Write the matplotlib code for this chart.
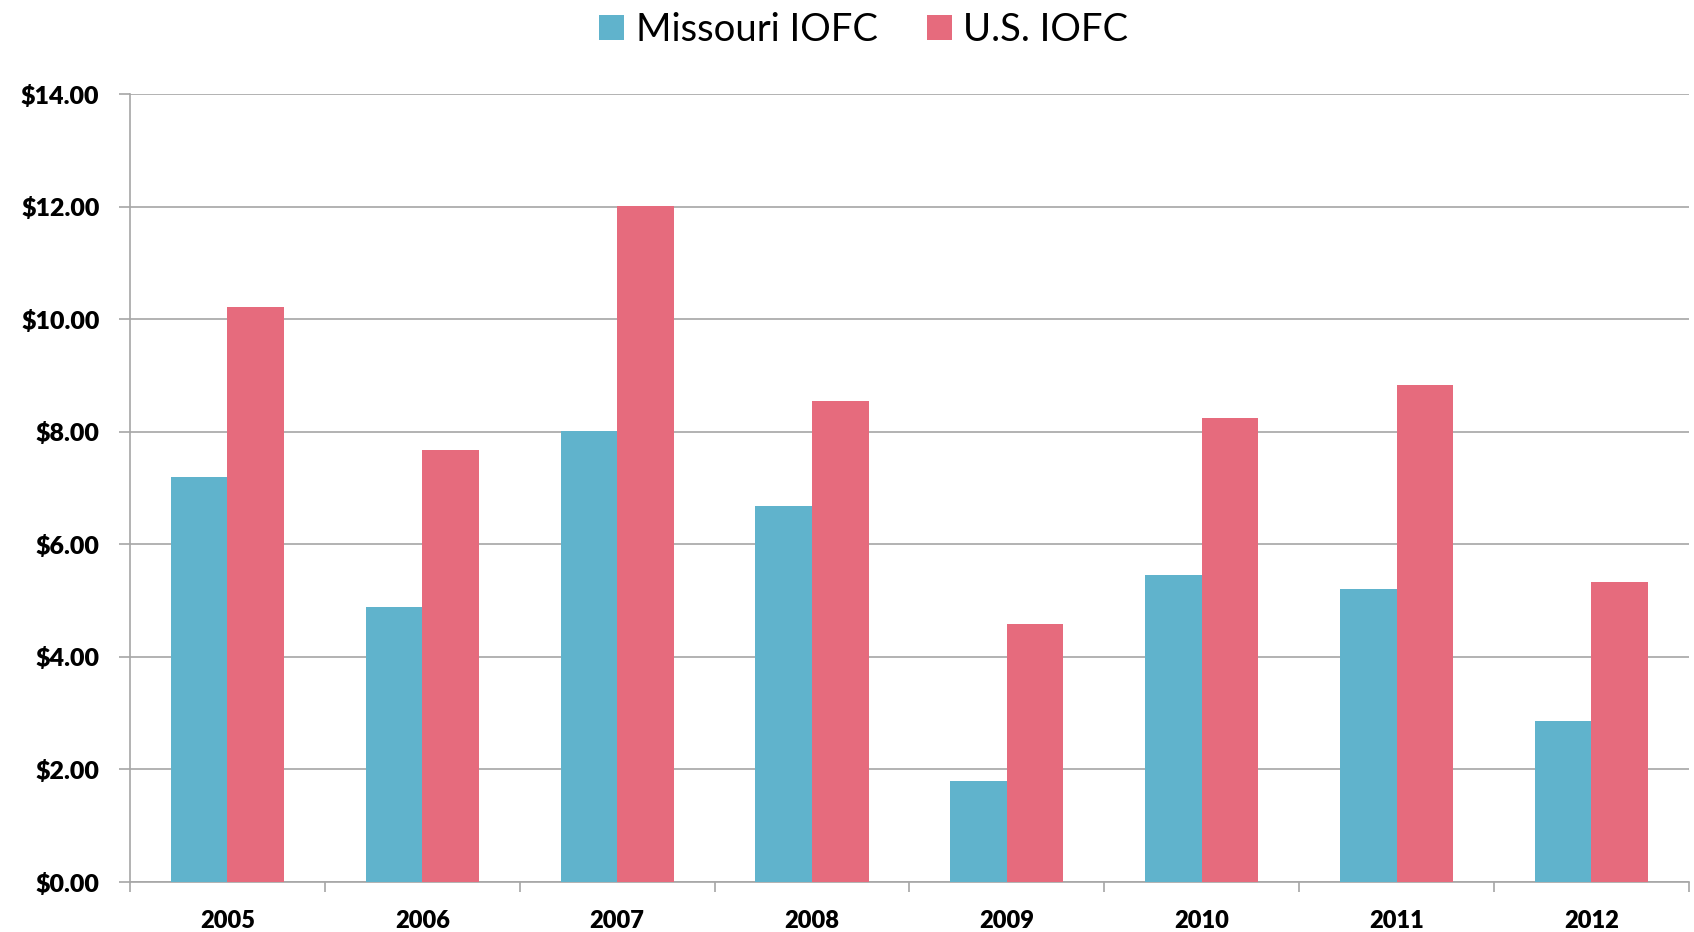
import numpy as np
import matplotlib.pyplot as plt
from matplotlib.ticker import FuncFormatter, MultipleLocator

years = ["2005", "2006", "2007", "2008", "2009", "2010", "2011", "2012"]
missouri_iofc = [7.19, 4.89, 8.02, 6.69, 1.80, 5.45, 5.20, 2.86]
us_iofc = [10.22, 7.67, 12.01, 8.55, 4.58, 8.25, 8.84, 5.33]

blue = "#60B3CC"
red = "#E66B7D"
grid_color = "#A6A6A6"

plt.rcParams['font.family'] = ['Lato', 'DejaVu Sans']

fig = plt.figure(figsize=(16.94, 9.32), dpi=100)
ax = fig.add_axes([0.0767, 0.0536, 0.9203, 0.8454])

x = np.arange(len(years))
w = 0.29
ax.bar(x - w / 2, missouri_iofc, width=w, color=blue, label="Missouri IOFC", zorder=3)
ax.bar(x + w / 2, us_iofc, width=w, color=red, label="U.S. IOFC", zorder=3)

ax.set_xlim(-0.5, len(years) - 0.5)
ax.set_ylim(0, 14)
ax.yaxis.set_major_locator(MultipleLocator(2))
ax.yaxis.set_major_formatter(FuncFormatter(lambda v, p: f"${v:.2f}"))
ax.grid(axis="y", color=grid_color, linewidth=1.2, zorder=0)

# category ticks sit between the groups, labels in the middle
ax.set_xticks(np.arange(-0.5, len(years), 1.0))
ax.set_xticklabels([])
ax.set_xticks(x, minor=True)
ax.set_xticklabels(years, minor=True, fontsize=17, fontweight="heavy")
ax.tick_params(axis="x", which="minor", length=0, pad=20)
ax.tick_params(axis="x", which="major", length=7, color=grid_color, width=1.2)
ax.tick_params(axis="y", length=8, color=grid_color, width=1.2, pad=14,
               labelsize=18)
for lbl in ax.get_yticklabels():
    lbl.set_fontweight("heavy")

for side in ["top", "right"]:
    ax.spines[side].set_visible(False)
for side in ["left", "bottom"]:
    ax.spines[side].set_color(grid_color)
    ax.spines[side].set_linewidth(1.2)

fig.legend(loc="center", bbox_to_anchor=(0.51, 0.968), ncol=2, frameon=False,
           fontsize=27.5, handlelength=0.65, handleheight=0.65, handletextpad=0.3,
           columnspacing=1.3)

fig.savefig("out.png", dpi=100)
